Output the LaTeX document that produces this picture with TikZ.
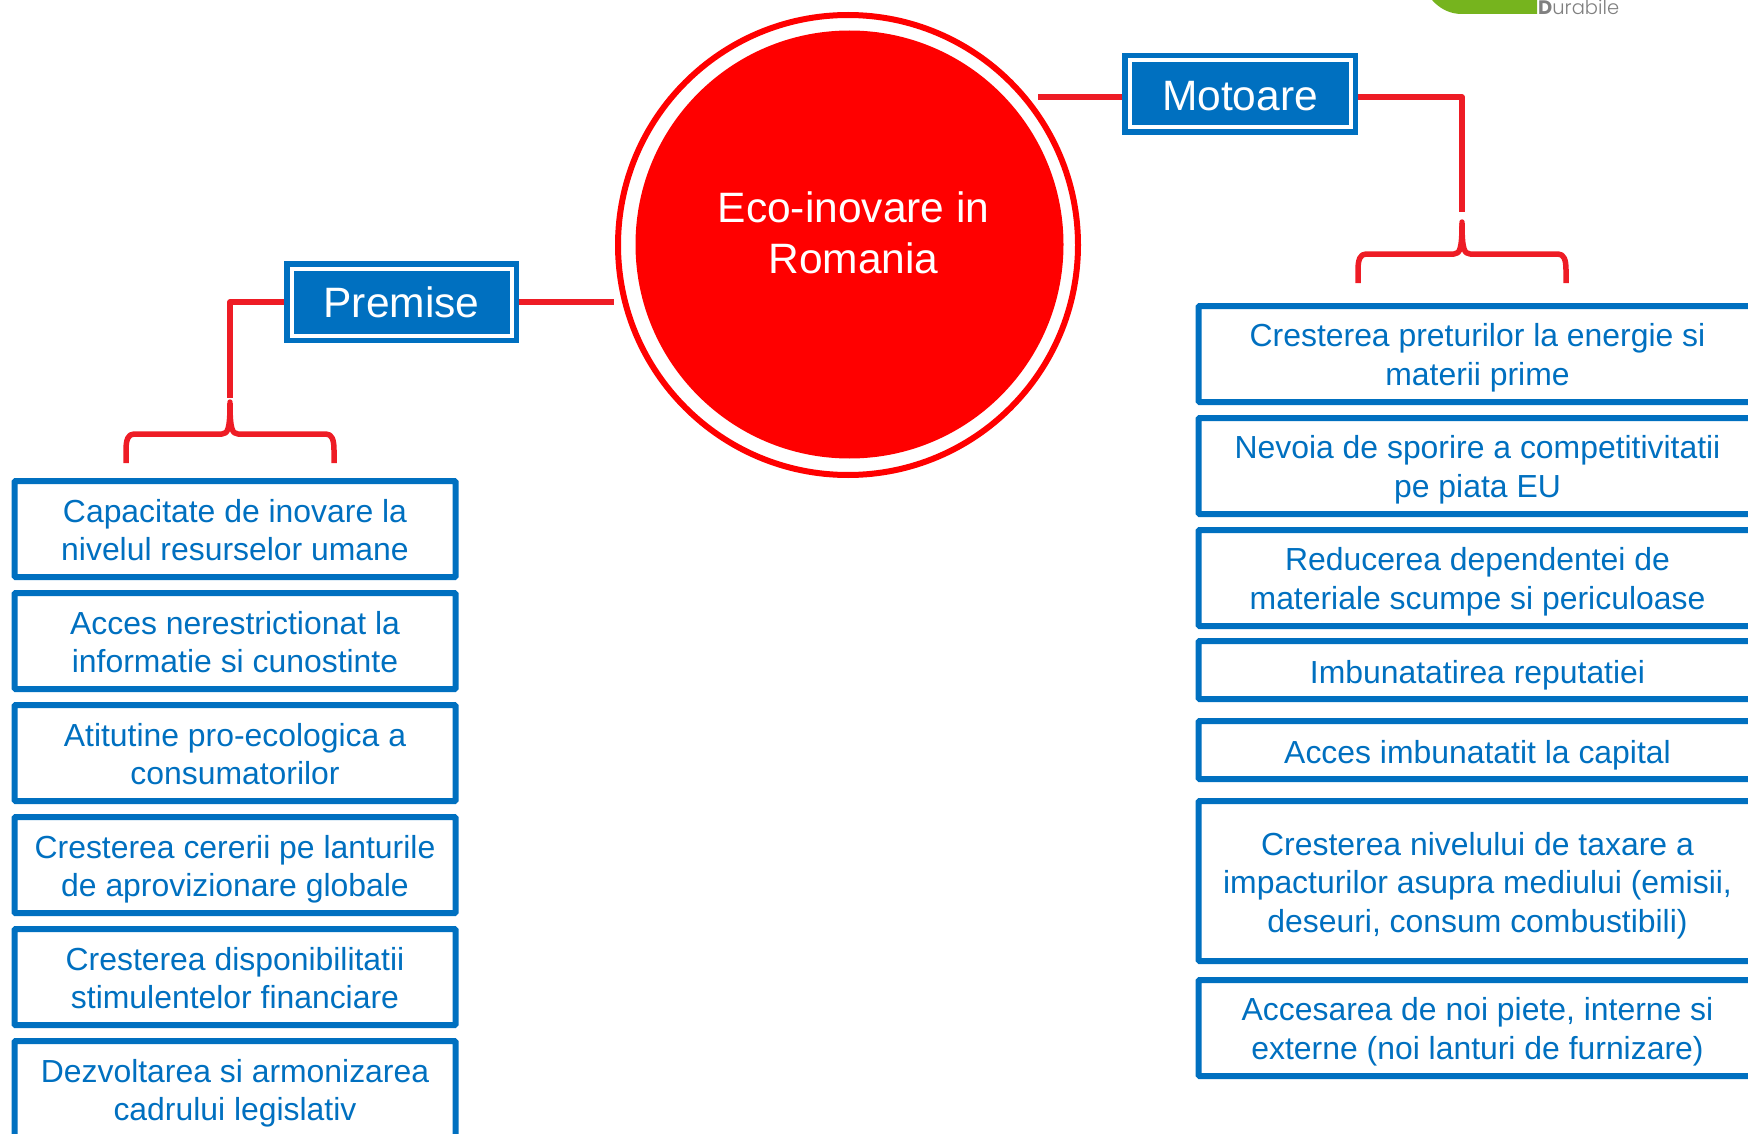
\documentclass[tikz,border=0pt]{standalone}
\usepackage{fontspec}
\setmainfont{Liberation Sans}
\newfontfamily\logofont[UprightFont=* Light,BoldFont=* Bold]{Poppins}
\definecolor{mainblue}{HTML}{0070C0}
\definecolor{linkred}{HTML}{EE1C25}
\definecolor{discred}{HTML}{FF0000}
\definecolor{logogreen}{HTML}{76B41E}
\definecolor{logogray}{HTML}{808080}
\tikzset{
  itembox/.style={draw=mainblue,line width=6pt,fill=white,rounded corners=1pt,text=mainblue,align=center,
    font=\fontsize{31.9}{38.3}\selectfont,minimum width=441pt,inner sep=0pt,outer sep=0pt,anchor=north,
    text depth=6pt,text height=69pt,minimum height=96pt},
  rightbox/.style={itembox,minimum width=558pt,text height=68pt},
  oneline/.style={text height=32pt,minimum height=58pt},
  threeline/.style={text height=108pt,minimum height=160pt},
  headbox/.style={draw=mainblue,double=white,double distance=4pt,line width=5.5pt,fill=mainblue,text=white,
    font=\fontsize{42.5}{51}\selectfont,minimum width=220pt,minimum height=67pt,
    inner sep=0pt,outer sep=7.5pt},
  link/.style={draw=linkred,line width=5.5pt,line join=round},
  bracket/.pic={
    \draw[link] (0,0) .. controls (0,25) and (-2,31) .. (-8,31) -- (-96,31)
       .. controls (-102,31) and (-104,37) .. (-104,47) -- (-104,60);
    \draw[link] (0,0) .. controls (0,25) and (2,31) .. (8,31) -- (96,31)
       .. controls (102,31) and (104,37) .. (104,47) -- (104,60);
    \fill[linkred] (0,-1) circle (2.7pt);
  }
}
\begin{document}
\begin{tikzpicture}[x=1pt,y=-1pt]
\useasboundingbox (0,0) rectangle (1748,1134);
\clip (0,0) rectangle (1748,1134);
% logo
\fill[logogreen] (1432,0) .. controls (1440,9) and (1450,14) .. (1462,14) -- (1537,14) -- (1537,0) -- cycle;
\node[anchor=base west,inner sep=0pt,text=logogray,font=\logofont\fontsize{19.5}{20}\selectfont] (logo) at (1538,15) {\textbf{D}urabile};
% central disc
\node[circle,draw=discred,line width=6pt,minimum size=460pt,inner sep=0pt,outer sep=0pt] (ring) at (848,245) {};
\node[circle,fill=discred,minimum size=428pt,inner sep=0pt,outer sep=0pt] (disc) at (849.5,244.5) {};
\node[text=white,align=center,font=\fontsize{42.5}{51}\selectfont,inner sep=0pt] (title) at (853.5,232.7) {Eco-inovare in\\Romania};
% heads
\node[headbox] (premise) at (401.5,302) {Premise};
\node[headbox,minimum width=221pt] (motoare) at (1240,94) {\rule{0pt}{34pt}Motoare};
% left items
\node[itembox] (l1) at (235,481) {Capacitate de inovare la\\nivelul resurselor umane};
\node[itembox] (l2) at (235,593) {Acces nerestrictionat la\\informatie si cunostinte};
\node[itembox] (l3) at (235,705) {Atitutine pro-ecologica a\\consumatorilor};
\node[itembox] (l4) at (235,817) {Cresterea cererii pe lanturile\\de aprovizionare globale};
\node[itembox] (l5) at (235,929) {Cresterea disponibilitatii\\stimulentelor financiare};
\node[itembox] (l6) at (235,1041) {Dezvoltarea si armonizarea\\cadrului legislativ};
% right items
\node[rightbox] (r1) at (1477.5,306) {Cresterea preturilor la energie si\\materii prime};
\node[rightbox] (r2) at (1477.5,418) {Nevoia de sporire a competitivitatii\\pe piata EU};
\node[rightbox] (r3) at (1477.5,530) {Reducerea dependentei de\\materiale scumpe si periculoase};
\node[rightbox,oneline] (r4) at (1477.5,641) {Imbunatatirea reputatiei};
\node[rightbox,oneline] (r5) at (1477.5,721) {Acces imbunatatit la capital};
\node[rightbox,threeline] (r6) at (1477.5,801) {Cresterea nivelului de taxare a\\impacturilor asupra mediului (emisii,\\deseuri, consum combustibili)};
\node[rightbox] (r7) at (1477.5,980) {Accesarea de noi piete, interne si\\externe (noi lanturi de furnizare)};
% connectors
\coordinate (pgap) at (614,302);
\coordinate (mgap) at (1038,97);
\coordinate (pcorner) at (230,302);
\coordinate (pend) at (230,398);
\coordinate (mcorner) at (1462,97);
\coordinate (mend) at (1462,212);
\draw[link] (premise.east) -- (pgap);
\draw[link] (premise.west) -- (pcorner) -- (pend);
\draw[link] (mgap) -- (motoare.west |- mgap);
\draw[link] (motoare.east |- mgap) -- (mcorner) -- (mend);
\pic at (230,403) {bracket};
\pic at (1462,223) {bracket};
\end{tikzpicture}
\end{document}
